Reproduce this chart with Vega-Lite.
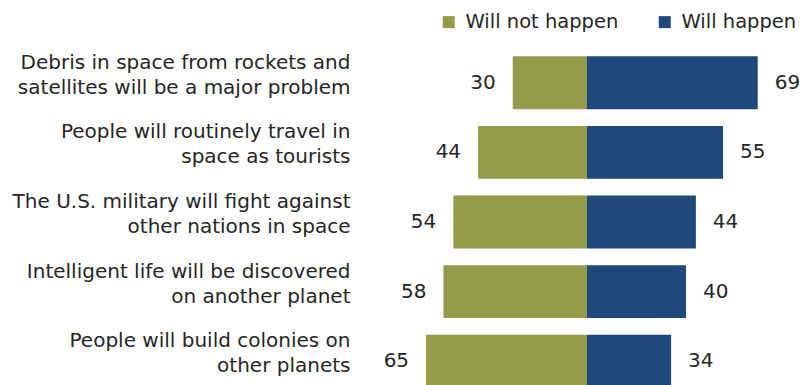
{
  "$schema": "https://vega.github.io/schema/vega-lite/v6.json",
  "autosize": {"type": "none"},
  "padding": {"left": 360, "top": 48, "right": 0, "bottom": 0},
  "width": 443,
  "height": 348,
  "background": "white",
  "config": {
    "view": {"stroke": null},
    "font": "DejaVu Sans"
  },
  "data": {
    "values": [
      {"statement": "Debris in space from rockets and|satellites will be a major problem", "response": "Will not happen", "value": 30},
      {"statement": "Debris in space from rockets and|satellites will be a major problem", "response": "Will happen", "value": 69},
      {"statement": "People will routinely travel in|space as tourists", "response": "Will not happen", "value": 44},
      {"statement": "People will routinely travel in|space as tourists", "response": "Will happen", "value": 55},
      {"statement": "The U.S. military will fight against|other nations in space", "response": "Will not happen", "value": 54},
      {"statement": "The U.S. military will fight against|other nations in space", "response": "Will happen", "value": 44},
      {"statement": "Intelligent life will be discovered|on another planet", "response": "Will not happen", "value": 58},
      {"statement": "Intelligent life will be discovered|on another planet", "response": "Will happen", "value": 40},
      {"statement": "People will build colonies on|other planets", "response": "Will not happen", "value": 65},
      {"statement": "People will build colonies on|other planets", "response": "Will happen", "value": 34}
    ]
  },
  "encoding": {
    "y": {
      "field": "statement",
      "type": "nominal",
      "sort": null,
      "scale": {"paddingInner": 0.24, "paddingOuter": 0.12},
      "axis": {
        "title": null,
        "ticks": false,
        "domain": false,
        "labelPadding": 10,
        "labelOffset": -20,
        "labelFontSize": 20,
        "labelFont": "DejaVu Sans",
        "labelColor": "#262626",
        "labelLimit": 400,
        "labelLineHeight": 25,
        "labelExpr": "split(datum.label, '|')"
      }
    }
  },
  "layer": [
    {
      "transform": [{"filter": "datum.response == 'Will not happen'"}],
      "mark": {"type": "bar"},
      "encoding": {
        "x": {"field": "value", "type": "quantitative", "axis": null,
              "scale": {"domain": [0, 91.7], "range": [227, 0], "nice": false, "zero": true}},
        "color": {
          "field": "response",
          "type": "nominal",
          "scale": {"domain": ["Will not happen", "Will happen"], "range": ["#949c4b", "#1f497d"]},
          "legend": {
            "title": null,
            "orient": "none",
            "direction": "horizontal",
            "legendX": 79,
            "legendY": -36,
            "symbolType": "square",
            "symbolSize": 144,
            "symbolStrokeWidth": 0,
            "labelFontSize": 19.5,
            "labelFont": "DejaVu Sans",
            "labelColor": "#262626",
            "labelOffset": 7,
            "columnPadding": 36,
            "labelLimit": 300
          }
        }
      }
    },
    {
      "transform": [{"filter": "datum.response == 'Will not happen'"}],
      "mark": {"type": "text", "align": "right", "baseline": "middle", "dx": -17, "fontSize": 20, "font": "DejaVu Sans", "color": "#262626"},
      "encoding": {
        "x": {"field": "value", "type": "quantitative", "axis": null,
              "scale": {"domain": [0, 91.7], "range": [227, 0], "nice": false, "zero": true}},
        "text": {"field": "value", "type": "quantitative"}
      }
    },
    {
      "transform": [{"filter": "datum.response == 'Will happen'"}],
      "mark": {"type": "bar"},
      "encoding": {
        "x": {"field": "value", "type": "quantitative", "axis": null,
              "scale": {"domain": [0, 87.3], "range": [227, 443], "nice": false, "zero": true}},
        "color": {"field": "response", "type": "nominal"}
      }
    },
    {
      "transform": [{"filter": "datum.response == 'Will happen'"}],
      "mark": {"type": "text", "align": "left", "baseline": "middle", "dx": 17, "fontSize": 20, "font": "DejaVu Sans", "color": "#262626"},
      "encoding": {
        "x": {"field": "value", "type": "quantitative", "axis": null,
              "scale": {"domain": [0, 87.3], "range": [227, 443], "nice": false, "zero": true}},
        "text": {"field": "value", "type": "quantitative"}
      }
    }
  ],
  "resolve": {"scale": {"x": "independent"}, "axis": {"x": "independent"}}
}
